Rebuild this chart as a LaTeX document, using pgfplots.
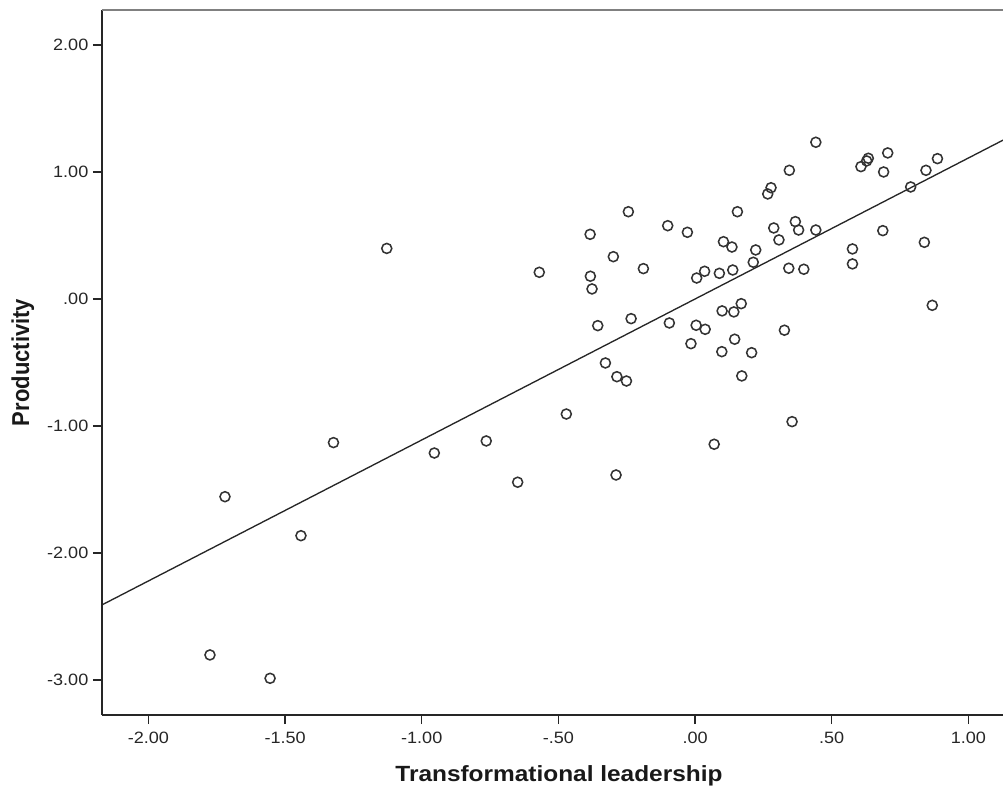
\documentclass[border=0pt]{standalone}
\usepackage{graphicx}
\usepackage{fontspec}
\setmainfont{Liberation Sans}
\usepackage{pgfplots}
\usepackage{pgfplotstable}
\pgfplotsset{compat=1.18}
\newcommand{\sx}[1]{\scalebox{1.1}[1]{#1}}
\pgfplotstableread{
x y
-1.775 -2.803
-1.555 -2.987
-1.720 -1.557
-1.442 -1.864
-1.323 -1.131
-1.128 0.398
-0.954 -1.213
-0.764 -1.118
-0.649 -1.443
-0.570 0.210
-0.471 -0.906
-0.384 0.509
-0.383 0.179
-0.377 0.079
-0.356 -0.210
-0.328 -0.504
-0.299 0.333
-0.286 -0.612
-0.289 -1.386
-0.251 -0.646
-0.244 0.687
-0.234 -0.155
-0.189 0.239
-0.100 0.577
-0.094 -0.189
-0.028 0.525
-0.015 -0.352
0.004 -0.207
0.006 0.165
0.035 0.218
0.037 -0.239
0.070 -1.144
0.089 0.202
0.098 -0.415
0.099 -0.094
0.104 0.451
0.135 0.409
0.138 0.228
0.142 -0.102
0.145 -0.317
0.155 0.687
0.169 -0.037
0.171 -0.606
0.207 -0.423
0.213 0.289
0.222 0.386
0.266 0.827
0.278 0.876
0.288 0.559
0.307 0.465
0.327 -0.246
0.345 1.013
0.343 0.242
0.355 -0.966
0.367 0.609
0.379 0.543
0.398 0.234
0.442 1.234
0.442 0.543
0.576 0.394
0.576 0.276
0.607 1.042
0.628 1.087
0.634 1.108
0.690 1.000
0.687 0.538
0.705 1.150
0.789 0.882
0.839 0.446
0.845 1.013
0.868 -0.050
0.887 1.105
}\pts
\begin{document}
\begin{tikzpicture}
\path[use as bounding box] (-76.5pt,-53.25pt) rectangle (675.75pt,536.25pt);
\begin{axis}[
  at={(0,0)}, anchor=south west,
  scale only axis, width=676.4pt, height=528.8pt,
  xmin=-2.17, xmax=1.13, ymin=-3.276, ymax=2.276,
  axis x line*=bottom, axis y line*=left,
  axis line style={-, line width=1.3pt, black!85},
  tick align=outside, major tick length=6.75pt,
  tick style={line width=1.1pt, black!85},
  xtick={-2,-1.5,-1,-0.5,0,0.5,1},
  xticklabels={\sx{-2.00},\sx{-1.50},\sx{-1.00},\sx{-.50},\sx{.00},\sx{.50},\sx{1.00}},
  ytick={-3,-2,-1,0,1,2},
  yticklabels={\sx{-3.00},\sx{-2.00},\sx{-1.00},\sx{.00},\sx{1.00},\sx{2.00}},
  ticklabel style={font=\fontsize{12.3}{14}\selectfont, text=black!85},
  xticklabel style={yshift=-2.4pt},
  xlabel={\scalebox{1.11}[1]{Transformational leadership}},
  ylabel={\scalebox{1}[1.11]{Productivity}},
  label style={font=\fontsize{16.5}{19}\selectfont\bfseries, text=black!90},
  xlabel style={at={(axis description cs:0.5067,-0.0946)}, anchor=base},
  ylabel style={at={(axis description cs:-0.0809,0.5)}, rotate=0, anchor=base},
  clip=true,
  extra description/.code={\draw[black!50, line width=1.9pt] (rel axis cs:0,1) -- (rel axis cs:1,1);},
]
\addplot[only marks, mark=o, mark size=3.75pt, mark options={line width=1.15pt, draw=black!80}] table[x=x,y=y] {\pts};
\addplot[black!85, line width=1pt] coordinates {(-2.17,-2.409) (1.13,1.254)};
\end{axis}
\end{tikzpicture}
\end{document}
